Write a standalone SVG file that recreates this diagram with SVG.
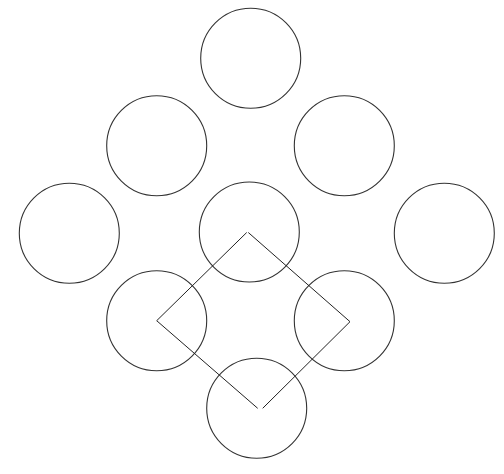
<svg xmlns="http://www.w3.org/2000/svg" width="504" height="474" viewBox="0 0 504 474">
<style>
.c{fill:none;stroke:#333;stroke-width:1.1}
.l{fill:none;stroke:#222;stroke-width:1}
</style>
<rect width="504" height="474" fill="#fff"/>
<g id="n1"><circle class="c" cx="250.7" cy="58.3" r="50"/></g>
<g id="n2"><circle class="c" cx="156.7" cy="145.8" r="50"/></g>
<g id="n3"><circle class="c" cx="344.3" cy="145.8" r="50"/></g>
<g id="n4"><circle class="c" cx="69.3" cy="233.3" r="50"/></g>
<g id="n5"><circle class="c" cx="249.3" cy="232" r="50"/></g>
<g id="n6"><circle class="c" cx="444.3" cy="233.3" r="50"/></g>
<g id="n7"><circle class="c" cx="156.7" cy="320.7" r="50"/></g>
<g id="n8"><circle class="c" cx="344.3" cy="320.7" r="50"/></g>
<g id="n9"><circle class="c" cx="256.7" cy="408.3" r="50"/></g>
<g id="connectors">
<polyline class="l" points="246.7,232.5 156.7,320.7 257.7,408.3"/>
<polyline class="l" points="248.3,232.5 350,321.7 262.7,408.3"/>
</g>
</svg>
